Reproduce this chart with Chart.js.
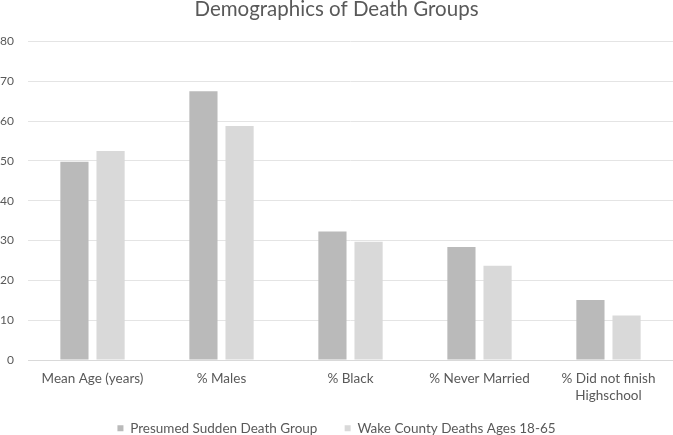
<!DOCTYPE html>
<html>
<head>
<meta charset="utf-8">
<script src="https://cdn.jsdelivr.net/npm/chart.js@4/dist/chart.umd.min.js"></script>
<style>
html,body{margin:0;padding:0;background:#fff;}
#wrap{width:673px;height:435px;position:relative;}
</style>
</head>
<body>
<div id="wrap"><canvas id="c" width="673" height="435"></canvas></div>
<script>
const categories = ["Mean Age (years)", "% Males", "% Black", "% Never Married", ["% Did not finish", "Highschool"]];
const seriesNames = ["Presumed Sudden Death Group", "Wake County Deaths Ages 18-65"];
const suddenDeath = [49.8, 67.5, 32.3, 28.4, 15.1];
const wakeCounty = [52.5, 58.8, 29.7, 23.7, 11.2];
const yTicks = [0, 10, 20, 30, 40, 50, 60, 70, 80];

const FONT = "Lato, 'Open Sans', sans-serif";
new Chart(document.getElementById('c'), {
  type: 'bar',
  data: {
    labels: categories,
    datasets: [
      {label: seriesNames[0], data: suddenDeath, backgroundColor: '#bababa', categoryPercentage: 0.56, barPercentage: 0.78},
      {label: seriesNames[1], data: wakeCounty, backgroundColor: '#d9d9d9', categoryPercentage: 0.56, barPercentage: 0.78}
    ]
  },
  options: {
    responsive: false,
    animation: false,
    devicePixelRatio: 1,
    layout: {padding: {left: 0, right: 0, top: -1, bottom: -10}},
    plugins: {
      title: {display: true, text: 'Demographics of Death Groups', color: '#595959',
        font: {family: FONT, size: 20.5, weight: 'normal', lineHeight: 1}, padding: {top: 0, bottom: 22}},
      legend: {position: 'bottom', labels: {color: '#595959', boxWidth: 6, boxHeight: 6,
        font: {family: FONT, size: 13.5}, padding: 7,
        generateLabels: (chart) => {
          const items = Chart.defaults.plugins.legend.labels.generateLabels(chart);
          if (items.length) items[0].text = items[0].text + '\u2003\u2002\u2009\u2009';
          return items;
        }}},
      tooltip: {enabled: false}
    },
    scales: {
      x: {
        grid: {display: false, drawTicks: false},
        border: {color: '#d9d9d9'},
        ticks: {color: '#595959', font: {family: FONT, size: 13.5, lineHeight: 1.24}, maxRotation: 0, autoSkip: false, padding: 10.5}
      },
      y: {
        min: 0, max: 80,
        afterBuildTicks: (axis) => { axis.ticks = yTicks.map(v => ({value: v})); },
        afterFit: (axis) => { axis.width = 28; },
        grid: {color: '#e4e4e4', drawTicks: false},
        border: {display: false},
        ticks: {color: '#595959', font: {family: FONT, size: 12}, padding: 14}
      }
    }
  }
});
</script>
</body>
</html>
